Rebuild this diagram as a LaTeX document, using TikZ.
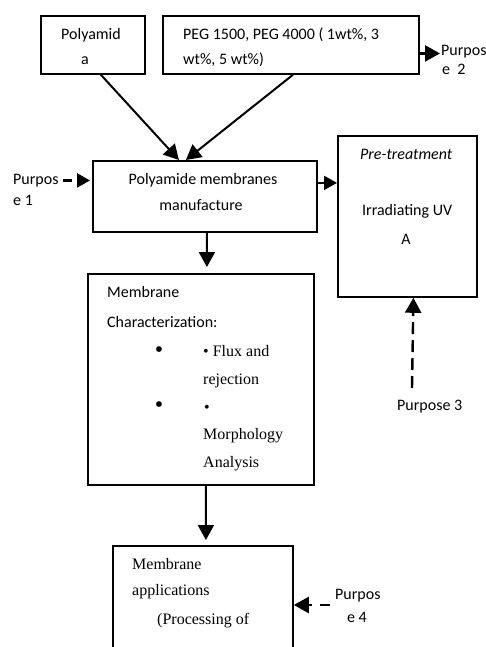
\documentclass[tikz,border=0pt]{standalone}
\usepackage{fontspec}
\setmainfont{Liberation Serif}
\newfontfamily\calfont{Carlito}
\usetikzlibrary{arrows.meta}
\begin{document}
\begin{tikzpicture}[x=1bp,y=-1bp,
  box/.style={draw, line width=1.8bp, rectangle, inner sep=0pt, anchor=north west},
  sans/.style={font=\calfont\fontsize{16bp}{19bp}\selectfont, inner sep=0pt},
  serif/.style={font=\fontsize{16bp}{19bp}\selectfont, inner sep=0pt},
  conn/.style={line width=2bp, -{Triangle[length=15bp,width=16bp]}},
  smallconn/.style={line width=2.4bp, -{Triangle[length=13bp,width=14bp]}}]
\clip (0,0) rectangle (486,647);
\fill[white] (0,0) rectangle (486,647);
% boxes
\node[box, minimum width=104bp, minimum height=58bp] (poly) at (40,15) {};
\node[box, minimum width=256bp, minimum height=58bp] (peg) at (162,15) {};
\node[box, minimum width=224bp, minimum height=71bp] (manu) at (92,160) {};
\node[box, minimum width=139bp, minimum height=161bp] (pre) at (337,135) {};
\node[box, minimum width=226bp, minimum height=211bp] (char) at (87,273) {};
\node[box, minimum width=180bp, minimum height=140bp] (apps) at (112,545) {};
% texts
\node[sans, anchor=mid] (t1) at (91,37) {Polyamid};
\node[sans, anchor=mid] (t2) at (85,62) {a};
\node[sans, anchor=mid west] (t3) at (183,37) {PEG 1500, PEG 4000 ( 1wt\%, 3};
\node[sans, anchor=mid west] (t4) at (183,62) {wt\%, 5 wt\%)};
\node[sans, anchor=mid west] (p2a) at (441,53) {Purpos};
\node[sans, anchor=mid west] (p2b) at (442,72) {e\ \ 2};
\node[sans, anchor=mid] (t5) at (203,182) {Polyamide membranes};
\node[sans, anchor=mid] (t6) at (201,208) {manufacture};
\node[sans, anchor=mid west] (p1a) at (13,182) {Purpos};
\node[sans, anchor=mid west] (p1b) at (13,203) {e 1};
\node[sans, anchor=mid west] (t7) at (360,157) {\itshape Pre-treatment};
\node[sans, anchor=mid west] (t8) at (362,213) {Irradiating UV};
\node[sans, anchor=mid] (t9) at (406,242) {A};
\node[sans, anchor=mid west] (t10) at (107,295) {Membrane};
\node[sans, anchor=mid west] (t11) at (107,325) {Characterization:};
\node[serif, anchor=mid, font=\fontsize{24bp}{26bp}\selectfont] (b1) at (159,355) {•};
\node[serif, anchor=mid west] (t12) at (203,354) {• Flux and};
\node[serif, anchor=mid west] (t13) at (203,382) {rejection};
\node[serif, anchor=mid, font=\fontsize{24bp}{26bp}\selectfont] (b2) at (159,410) {•};
\node[serif, anchor=mid west] (t14) at (204,410) {•};
\node[serif, anchor=mid west] (t15) at (203,437) {Morphology};
\node[serif, anchor=mid west] (t16) at (203,465) {Analysis};
\node[sans, anchor=mid west] (p3) at (397,408) {Purpose 3};
\node[serif, anchor=mid west] (t17) at (132,567) {Membrane};
\node[serif, anchor=mid west] (t18) at (132,593) {applications};
\node[serif, anchor=mid west] (t19) at (157,622) {(Processing of};
\node[sans, anchor=mid west] (p4a) at (335,597) {Purpos};
\node[sans, anchor=mid] (p4b) at (357,620) {e 4};
% connectors
\draw[conn] ([xshift=8bp]poly.south) -- ([xshift=-26bp]manu.north);
\draw[conn] ([xshift=2bp]peg.south) -- ([xshift=-19bp]manu.north);
\draw[conn] ([xshift=2bp]manu.south) -- ([xshift=6bp,yshift=6bp]char.north);
\draw[conn] ([xshift=5bp]char.south) -- ([xshift=3bp,yshift=5bp]apps.north);
\coordinate (m1) at ([yshift=13.5bp]manu.east);
\draw[smallconn, line width=2bp] (m1) -- (m1 -| pre.west);
\draw[smallconn, dash pattern=on 9bp off 5bp, shorten >=2bp] ([xshift=4bp]p1a.east) -- (p1a -| manu.west);
\draw[conn, line width=2.4bp] ([yshift=-2bp]p2a -| peg.east) -- ([yshift=-2bp,xshift=-1bp]p2a.west);
\coordinate (c3) at (412,388);
\draw[conn, line width=2.4bp, dash pattern=on 12bp off 6bp] (c3) -- ([xshift=6bp]pre.south);
\coordinate (c4) at (330,605);
\draw[conn, line width=2.4bp, dash pattern=on 10bp off 8bp] (c4) -- (c4 -| apps.east);
\end{tikzpicture}
\end{document}
